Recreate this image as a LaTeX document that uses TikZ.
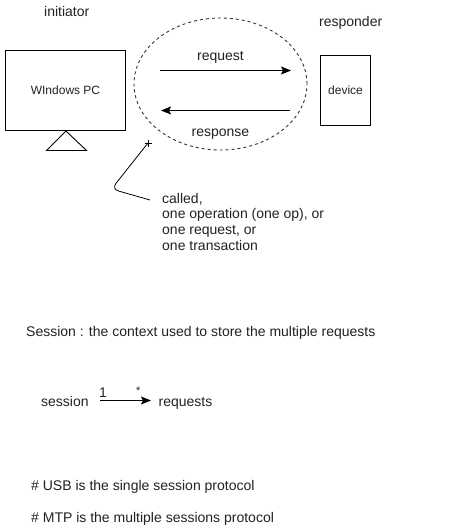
\documentclass[tikz,border=0pt]{standalone}
\usepackage{fontspec}
\setmainfont{Liberation Sans}
\usetikzlibrary{arrows.meta,shapes.geometric}
\definecolor{txt}{HTML}{222222}
\tikzset{
  x=1pt,y=-1pt,
  lbl/.style={inner sep=0pt,anchor=base west,text=txt,font=\fontsize{14}{16.5}\selectfont},
  small/.style={inner sep=0pt,text=txt,font=\fontsize{12}{14}\selectfont},
  boxed/.style={draw=black,line width=0.9pt,fill=white},
  flow/.style={draw=black,line width=1pt,-{Stealth[length=10pt,width=8pt,inset=2pt]}}
}
\begin{document}
\begin{tikzpicture}
\useasboundingbox (0,0) rectangle (461,531);
\fill[white] (0,0) rectangle (461,531);
\node[draw=black!80,line width=0.9pt,dash pattern=on 3pt off 3pt,ellipse,minimum width=173pt,minimum height=132pt,inner sep=0pt] (cloud) at (220.5,84) {};
\node[boxed,minimum width=120pt,minimum height=80pt,inner sep=0pt,small] (pc) at (65.5,90.5) {WIndows PC};
\node[boxed,minimum width=50pt,minimum height=70pt,inner sep=0pt,small] (dev) at (345.5,90.5) {device};
\coordinate (ta) at (66,131);
\coordinate (tb) at (46.5,150.5);
\coordinate (tc) at (86.5,150.5);
\draw[black,line width=0.9pt] (ta) -- (tb) -- (tc) -- cycle;
\node[lbl] (init) at (44,16) {initiator};
\node[lbl] (resp) at (319,26) {responder};
\node[lbl] (reql) at (197,60) {request};
\node[lbl] (resl) at (191.5,136) {response};
\coordinate (r1) at (160,70.5);
\coordinate (r2) at (291,70.5);
\coordinate (s1) at (290,110.5);
\coordinate (s2) at (161,110.5);
\draw[flow] (r1) -- (r2);
\draw[flow] (s1) -- (s2);
\coordinate (c1) at (148,143);
\coordinate (c2) at (111.5,189);
\coordinate (c3) at (150,200);
\draw[black,line width=0.8pt,rounded corners=7pt] (c1) -- (c2) -- (c3);
\draw[black,line width=0.7pt] ([shift={(-3.5,0)}]c1) -- ([shift={(3.5,0)}]c1) ([shift={(0,-3.5)}]c1) -- ([shift={(0,3.5)}]c1);
\node[lbl] (called) at (162,203) {called,};
\node[lbl] (oneop) at (162,218) {one operation (one op), or};
\node[lbl] (onereq) at (162,234) {one request, or};
\node[lbl] (onetr) at (162,250) {one transaction};
\node[lbl] (sess) at (26,336) {Session : the context used to store the multiple requests};
\node[lbl] (ss) at (41,406) {session};
\node[lbl] (rq) at (158.5,406) {requests};
\coordinate (a1) at (100,400.5);
\coordinate (a2) at (151,400.5);
\draw[flow] (a1) -- (a2);
\node[lbl] (n1) at (99,397.5) {1};
\node[lbl,font=\fontsize{11}{13}\selectfont] (nstar) at (136,394) {*};
\node[lbl] (usb) at (31,490) {\# USB is the single session protocol};
\node[lbl] (mtp) at (31,522) {\# MTP is the multiple sessions protocol};
\end{tikzpicture}
\end{document}
